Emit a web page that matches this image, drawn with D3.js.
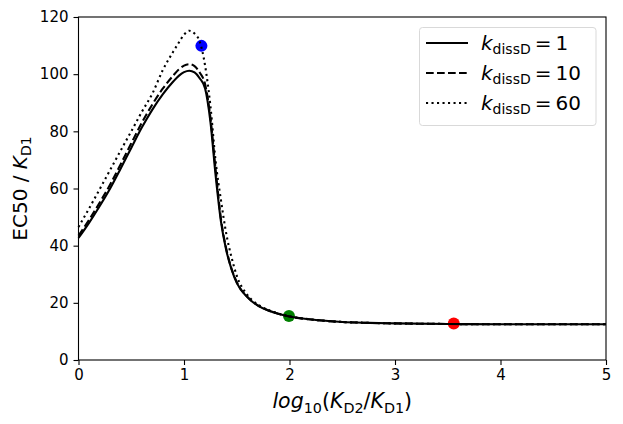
<!DOCTYPE html>
<html>
<head>
<meta charset="utf-8">
<script src="https://cdn.jsdelivr.net/npm/d3@7"></script>
<style>
  body { margin: 0; background: #fff; }
  svg { display: block; font-family: "DejaVu Sans", sans-serif; }
</style>
</head>
<body>
<svg id="chart" width="623" height="424"></svg>
<script>
// log10(KD2/KD1) grid the curves were read on
const logRatio = [0, 0.1, 0.2, 0.3, 0.4, 0.5, 0.6, 0.7, 0.8, 0.9, 0.95, 1.0, 1.05, 1.1, 1.15, 1.2, 1.25, 1.3, 1.35, 1.4, 1.45, 1.5, 1.6, 1.7, 1.8, 1.9, 2.0, 2.25, 2.5, 2.75, 3.0, 3.5, 4.0, 4.5, 5.0];
// EC50 / KD1 for each kdissD
const ec50Kdiss1 = [42.7, 48, 53.8, 60, 67, 74.2, 81.3, 87.6, 93, 97.5, 99.4, 100.7, 101.2, 100.6, 98.5, 95, 83.5, 64.5, 48.5, 38.5, 31.8, 27, 22, 19, 17.3, 16.1, 15.2, 14, 13.3, 13, 12.8, 12.6, 12.5, 12.5, 12.5];
const ec50Kdiss10 = [43.5, 49, 55, 61.4, 68.5, 75.8, 83, 89.4, 95, 99.6, 101.6, 103, 103.5, 102.8, 100.5, 96.5, 85, 66.5, 49.5, 39, 32, 27.3, 22.1, 19.1, 17.3, 16.1, 15.2, 14, 13.3, 13, 12.8, 12.6, 12.5, 12.5, 12.5];
const ec50Kdiss60 = [46.5, 53, 59.7, 66.5, 73.3, 80, 86.8, 93.2, 101.5, 108, 111, 113.8, 115.2, 114.2, 111.3, 103, 89, 69.5, 56, 44.3, 36, 29.5, 22.8, 19.4, 17.5, 16.2, 15.3, 14, 13.3, 13, 12.8, 12.6, 12.5, 12.5, 12.5];

const seriesLabels = ['1', '10', '60'];
const seriesDash = ['none', '7.7,3.3', '2.1,3.4'];

// highlighted points
const pointX = [1.165, 1.995, 3.557];
const pointY = [109.9, 15.4, 12.8];
const pointColors = ['#0000ff', '#008000', '#ff0000'];

const xTicks = [0, 1, 2, 3, 4, 5];
const yTicks = [0, 20, 40, 60, 80, 100, 120];

const margin = { top: 17, right: 17, bottom: 64, left: 78.5 };
const width = 623;
const height = 424;

const svg = d3.select('#chart');

const x = d3.scaleLinear()
  .domain([0, 5])
  .range([margin.left, width - margin.right]);
const y = d3.scaleLinear()
  .domain([0, 120])
  .range([height - margin.bottom, margin.top]);

// axes
const xAxis = d3.axisBottom(x).tickValues(xTicks).tickSize(5).tickPadding(4).tickFormat(d3.format('d'));
const yAxis = d3.axisLeft(y).tickValues(yTicks).tickSize(5).tickPadding(5).tickFormat(d3.format('d'));

const gx = svg.append('g')
  .attr('transform', `translate(0,${y(0)})`)
  .call(xAxis);
const gy = svg.append('g')
  .attr('transform', `translate(${x(0)},0)`)
  .call(yAxis);
[gx, gy].forEach((g) => {
  g.select('.domain').remove();
  g.selectAll('.tick line').attr('stroke', '#000').attr('stroke-width', 1.1);
  g.selectAll('.tick text')
    .attr('fill', '#000')
    .style('font-size', '15px')
    .style('font-family', '"DejaVu Sans", sans-serif');
});

// markers go under the lines
svg.append('g')
  .selectAll('circle')
  .data(pointX)
  .join('circle')
  .attr('cx', d => x(d))
  .attr('cy', (d, i) => y(pointY[i]))
  .attr('r', 6)
  .attr('fill', (d, i) => pointColors[i]);

const line = d3.line()
  .x((d, i) => x(logRatio[i]))
  .y(d => y(d))
  .curve(d3.curveMonotoneX);

const seriesValues = [ec50Kdiss1, ec50Kdiss10, ec50Kdiss60];
svg.append('g')
  .selectAll('path')
  .data(seriesValues)
  .join('path')
  .attr('d', d => line(d))
  .attr('fill', 'none')
  .attr('stroke', '#000')
  .attr('stroke-width', 2.1)
  .attr('stroke-dasharray', (d, i) => seriesDash[i]);

// frame
svg.append('rect')
  .attr('x', x(0))
  .attr('y', y(120))
  .attr('width', x(5) - x(0))
  .attr('height', y(0) - y(120))
  .attr('fill', 'none')
  .attr('stroke', '#000')
  .attr('stroke-width', 1.1);

// little helper for mathtext-ish labels: parts of [text, italic, sub]
const mathText = (sel, parts, size) => {
  parts.forEach(([txt, italic, sub], i) => {
    const prevSub = i > 0 && parts[i - 1][2];
    let dy = 0;
    if (sub && !prevSub) dy = size * 0.22;
    if (!sub && prevSub) dy = -size * 0.22;
    sel.append('tspan')
      .attr('dy', dy)
      .style('font-style', italic ? 'italic' : 'normal')
      .style('font-size', `${sub ? size * 0.7 : size}px`)
      .text(txt);
  });
};

// x label
const xl = svg.append('text')
  .attr('x', (x(0) + x(5)) / 2)
  .attr('y', 408)
  .attr('text-anchor', 'middle')
  .attr('fill', '#000');
mathText(xl, [['log', true, false], ['10', false, true], ['(', false, false], ['K', true, false], ['D2', false, true], ['/', false, false], ['K', true, false], ['D1', false, true], [')', false, false]], 20.5);

// y label
const yl = svg.append('text')
  .attr('transform', `translate(27,${(y(0) + y(120)) / 2}) rotate(-90)`)
  .attr('text-anchor', 'middle')
  .attr('fill', '#000');
mathText(yl, [['EC50 / ', false, false], ['K', true, false], ['D1', false, true]], 20);

// legend
const legend = svg.append('g');
legend.append('rect')
  .attr('x', 419.5)
  .attr('y', 27.5)
  .attr('width', 176.5)
  .attr('height', 98)
  .attr('rx', 3)
  .attr('fill', '#fff')
  .attr('fill-opacity', 0.8)
  .attr('stroke', '#d9d9d9')
  .attr('stroke-width', 1);

const rowY = [43, 73, 103];
seriesLabels.forEach((lab, i) => {
  legend.append('line')
    .attr('x1', 426)
    .attr('x2', 468)
    .attr('y1', rowY[i])
    .attr('y2', rowY[i])
    .attr('stroke', '#000')
    .attr('stroke-width', 2.1)
    .attr('stroke-dasharray', seriesDash[i]);
  const t = legend.append('text')
    .attr('x', 481)
    .attr('y', rowY[i] + 7)
    .attr('fill', '#000');
  mathText(t, [['k', true, false], ['dissD', false, true], ['\u2009=\u2009' + lab, false, false]], 20);
});
</script>
</body>
</html>
